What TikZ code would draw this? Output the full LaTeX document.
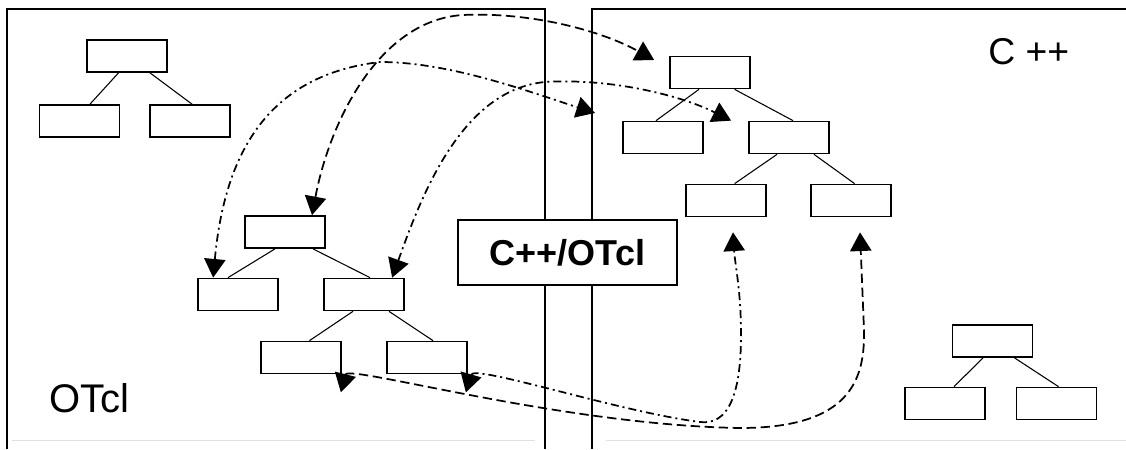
\documentclass[tikz,border=0pt]{standalone}
\usepackage{fontspec}
\setmainfont{Liberation Sans}
\usetikzlibrary{arrows.meta,calc}
\begin{document}
\begin{tikzpicture}[x=0.75pt,y=-0.75pt,
  bx/.style={draw, line width=1.3pt, minimum width=60pt, minimum height=24pt, inner sep=0pt},
  tl/.style={line width=0.8pt},
  panel/.style={line width=1.3pt},
  lnk/.style={line width=1.3pt, {Triangle[length=14pt,width=16pt]}-{Triangle[length=14pt,width=16pt]}},
  dsh/.style={dash pattern=on 7pt off 3.5pt},
  dd/.style={dash pattern=on 6pt off 3pt on 1.5pt off 3pt},
  lab/.style={inner sep=0pt, font=\fontsize{28}{30}\selectfont}
]
\useasboundingbox (0,0) rectangle (1126,449);
\fill[white] (0,0) rectangle (1126,449);
% panels
\draw[panel] (7,449) -- (7,9) -- (545,9) -- (545,449);
\draw[panel] (1126,9) -- (592,9) -- (592,449);
\draw[black!12, line width=0.6pt] (12,440) -- (535,440);
\draw[black!12, line width=0.6pt] (606,440) -- (1126,440);
% bridge box
\node[draw, fill=white, line width=1.3pt, minimum width=164pt, minimum height=48.75pt, inner sep=0pt, font=\fontsize{27}{30}\selectfont\bfseries] (br) at (567.5,252.5) {C++/OTcl};
% labels
\node[lab, anchor=base west] (cpp) at (988,65) {C ++};
\node[inner sep=0pt, anchor=base west, font=\fontsize{30}{32}\selectfont] (otcl) at (49.5,412) {OTcl};
% top-left tree
\node[bx] (a0) at (127,56) {};
\node[bx] (a1) at (79.5,121) {};
\node[bx] (a2) at (190,121) {};
\draw[tl] ($(a0.south)+(-8.5,0)$) -- ($(a1.north)+(10.5,0)$);
\draw[tl] ($(a0.south)+(23,0)$) -- ($(a2.north)+(2,0)$);
% middle-left tree
\node[bx] (b0) at (285,232) {};
\node[bx] (b1) at (238,294.5) {};
\node[bx] (b2) at (364,294.5) {};
\node[bx] (b3) at (301,357.5) {};
\node[bx] (b4) at (427,357.5) {};
\draw[tl] ($(b0.south)+(-10,0)$) -- ($(b1.north)+(-10,0)$);
\draw[tl] ($(b0.south)+(28,0)$) -- ($(b2.north)+(6,0)$);
\draw[tl] ($(b2.south)+(-11,0)$) -- ($(b3.north)+(8.5,0)$);
\draw[tl] ($(b2.south)+(25,0)$) -- ($(b4.north)+(6,0)$);
% C++ tree
\node[bx] (c0) at (710,72.5) {};
\node[bx] (c1) at (663,137.5) {};
\node[bx] (c2) at (789,137.5) {};
\node[bx] (c3) at (726,200.5) {};
\node[bx] (c4) at (851,200.5) {};
\draw[tl] ($(c0.south)+(-11,0)$) -- ($(c1.north)+(-7,0)$);
\draw[tl] ($(c0.south)+(24.6,0)$) -- ($(c2.north)+(4,0)$);
\draw[tl] ($(c2.south)+(-12,0)$) -- ($(c3.north)+(8.6,0)$);
\draw[tl] ($(c2.south)+(25,0)$) -- ($(c4.north)+(3.6,0)$);
% bottom-right tree
\node[bx] (d0) at (992.5,341) {};
\node[bx] (d1) at (945,403.5) {};
\node[bx] (d2) at (1056.5,403.5) {};
\draw[tl] ($(d0.south)+(-9.5,0)$) -- ($(d1.north)+(9,0)$);
\draw[tl] ($(d0.south)+(22,0)$) -- ($(d2.north)+(2,0)$);
% free end
\coordinate (pA) at (595,113);
% links
\draw[lnk,dd] ($(b1.north west)+(16,0)$) .. controls (225,150) and (270,75) .. (380,62)
  .. controls (450,62) and (530,92) .. (pA);
\draw[lnk,dsh] ($(b0.north)+(27,0)$) .. controls (330,120) and (380,20) .. (463,15)
  .. controls (530,12) and (600,30) .. ($(c0.west)+(-15,-12.5)$);
\draw[lnk,dd] ($(b2.north west)+(69,0)$) .. controls (420,200) and (460,90) .. (545,82)
  .. controls (610,78) and (680,95) .. ($(c2.north west)+(-17,0)$);
\draw[lnk,dsh] ($(b3.south east)+(-1,18)$) .. controls (348,364) and (560,425) .. (740,428)
  .. controls (850,428) and (865,380) .. (864,330) -- ($(c4.south)+(9,15)$);
\draw[lnk,dd] ($(b4.south east)+(-2,18)$) .. controls (474,364) and (620,412) .. (700,422)
  .. controls (728,425.5) and (741,395) .. (741,335)
  .. controls (741,290) and (735,265) .. ($(c3.south)+(7,15)$);
\end{tikzpicture}
\end{document}
